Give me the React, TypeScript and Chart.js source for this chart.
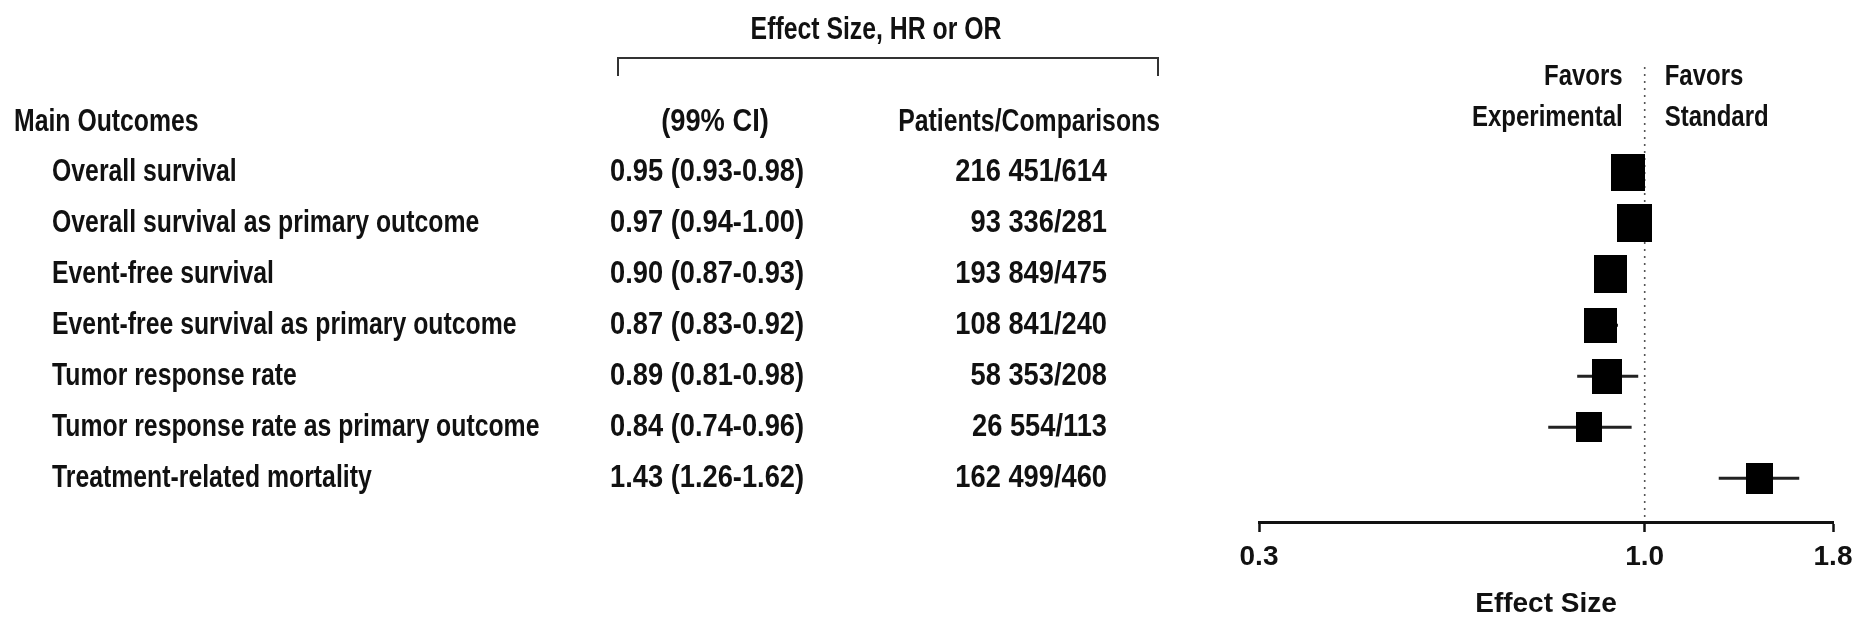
import React, { useEffect, useRef } from "react";
import { Chart, registerables } from "chart.js";

Chart.register(...registerables);

// ---------- data ----------
const outcomes = [
  "Overall survival",
  "Overall survival as primary outcome",
  "Event-free survival",
  "Event-free survival as primary outcome",
  "Tumor response rate",
  "Tumor response rate as primary outcome",
  "Treatment-related mortality",
];
const estimates = [0.95, 0.97, 0.9, 0.87, 0.89, 0.84, 1.43];
const lowerCI = [0.93, 0.94, 0.87, 0.83, 0.81, 0.74, 1.26];
const upperCI = [0.98, 1.0, 0.93, 0.92, 0.98, 0.96, 1.62];
const patients = [216451, 93336, 193849, 108841, 58353, 26554, 162499];
const comparisons = [614, 281, 475, 240, 208, 113, 460];
const tickValues = [0.3, 1.0, 1.8];
const tickLabels = ["0.3", "1.0", "1.8"];

// ---------- styles ----------
const markerW = [34, 35, 33, 33, 30, 26, 27];
const markerH = [37, 38, 38, 35, 35, 30, 31];
const FONT = '"Liberation Sans", Arial, sans-serif';
const INK = "#111";
const SX_TEXT = 0.8;
const SX_NUM = 0.88;

const fmtPatients = (n: number) =>
  n.toString().replace(/\B(?=(\d{3})+(?!\d))/g, " ");

function makeRect(w: number, h: number) {
  const c = document.createElement("canvas");
  c.width = w;
  c.height = h;
  const g = c.getContext("2d")!;
  g.fillStyle = "#000";
  g.fillRect(0, 0, w, h);
  return c;
}

function txt(
  ctx: CanvasRenderingContext2D,
  s: string,
  x: number,
  y: number,
  align: CanvasTextAlign,
  size = 31,
  sx = SX_TEXT
) {
  ctx.save();
  ctx.translate(x, y);
  ctx.scale(sx, 1);
  ctx.font = `bold ${size}px ${FONT}`;
  ctx.textAlign = align;
  ctx.textBaseline = "middle";
  ctx.fillStyle = INK;
  ctx.fillText(s, 0, 0);
  ctx.restore();
}

const forestPlugin = {
  id: "forestText",
  beforeDatasetsDraw(chart: any) {
    const { ctx, chartArea, scales } = chart;
    const x1 = scales.x.getPixelForValue(1);
    ctx.save();
    ctx.strokeStyle = "#555";
    ctx.lineWidth = 1.6;
    ctx.setLineDash([2, 5]);
    ctx.beginPath();
    ctx.moveTo(x1, chartArea.top);
    ctx.lineTo(x1, chartArea.bottom);
    ctx.stroke();
    ctx.restore();
  },
  afterDraw(chart: any) {
    const { ctx, scales } = chart;
    const x1 = scales.x.getPixelForValue(1);
    // favors headers
    txt(ctx, "Favors", x1 - 22, 77, "right", 30);
    txt(ctx, "Experimental", x1 - 22, 118, "right", 30);
    txt(ctx, "Favors", x1 + 20, 77, "left", 30);
    txt(ctx, "Standard", x1 + 20, 118, "left", 30);

    // table header
    txt(ctx, "Effect Size, HR or OR", 876, 30, "center");
    ctx.save();
    ctx.strokeStyle = "#333";
    ctx.lineWidth = 2;
    ctx.beginPath();
    ctx.moveTo(618, 76);
    ctx.lineTo(618, 58);
    ctx.lineTo(1158, 58);
    ctx.lineTo(1158, 76);
    ctx.stroke();
    ctx.restore();

    const headY = 122;
    txt(ctx, "Main Outcomes", 14, headY, "left");
    txt(ctx, "(99% CI)", 715, headY, "center", 31, SX_NUM);
    txt(ctx, "Patients/Comparisons", 1160, headY, "right");

    outcomes.forEach((name, i) => {
      const y = scales.y.getPixelForValue(i);
      txt(ctx, name, 52, y, "left");
      txt(
        ctx,
        `${estimates[i].toFixed(2)} (${lowerCI[i].toFixed(2)}-${upperCI[i].toFixed(2)})`,
        610,
        y,
        "left",
        31,
        SX_NUM
      );
      txt(
        ctx,
        `${fmtPatients(patients[i])}/${comparisons[i]}`,
        1107,
        y,
        "right",
        31,
        SX_NUM
      );
    });
  },
};

export default function App() {
  const ref = useRef<HTMLCanvasElement | null>(null);

  useEffect(() => {
    if (!ref.current) return;
    const markers = {
      type: "scatter" as const,
      order: 0,
      data: estimates.map((v, i) => ({ x: v, y: i })),
      pointStyle: estimates.map((_, i) => makeRect(markerW[i], markerH[i])),
      pointRadius: 5,
      showLine: false,
    };
    const whiskers = estimates.map((_, i) => ({
      type: "line" as const,
      order: 1,
      data: [
        { x: lowerCI[i], y: i },
        { x: upperCI[i], y: i },
      ],
      borderColor: "#222",
      borderWidth: 3,
      pointRadius: 0,
      fill: false,
    }));

    const chart = new Chart(ref.current, {
      type: "scatter",
      data: { datasets: [markers as any, ...(whiskers as any[])] },
      options: {
        animation: false,
        responsive: false,
        events: [],
        layout: { padding: { left: 1259, right: 20, top: 67, bottom: 0 } },
        plugins: { legend: { display: false }, tooltip: { enabled: false } },
        scales: {
          x: {
            type: "logarithmic",
            min: 0.3,
            max: 1.8,
            position: "bottom",
            afterBuildTicks: (s: any) => {
              s.ticks = tickValues.map((v) => ({ value: v }));
            },
            afterFit: (s: any) => {
              s.height = 99;
              s.paddingLeft = 0;
              s.paddingRight = 0;
            },
            ticks: {
              autoSkip: false,
              maxRotation: 0,
              padding: 8,
              color: INK,
              font: { family: FONT, size: 28, weight: "bold" },
              callback: (_v: any, i: number) => tickLabels[i],
            },
            grid: {
              display: true,
              drawOnChartArea: false,
              drawTicks: true,
              tickLength: 10,
              tickWidth: 2.5,
              tickColor: INK,
            },
            border: { display: true, color: INK, width: 3 },
            title: {
              display: true,
              text: "Effect Size",
              color: INK,
              font: { family: FONT, size: 28, weight: "bold" },
              padding: { top: 0, bottom: 0 },
            },
          },
          y: {
            type: "linear",
            display: false,
            min: -2.07,
            max: 6.86,
            reverse: true,
          },
        },
      } as any,
      plugins: [forestPlugin],
    });
    return () => chart.destroy();
  }, []);

  return (
    <div
      style={{
        position: "absolute",
        left: 0,
        top: 0,
        width: 1853,
        height: 621,
        background: "#fff",
      }}
    >
      <canvas
        ref={ref}
        width={1853}
        height={621}
        style={{ width: 1853, height: 621, display: "block" }}
      />
    </div>
  );
}
